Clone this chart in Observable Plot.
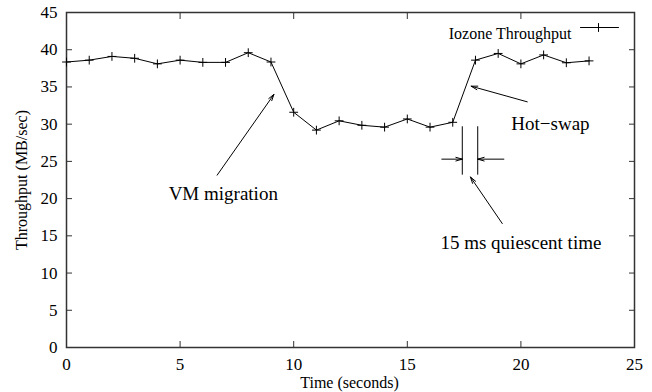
<!DOCTYPE html>
<html>
<head>
<meta charset="utf-8">
<script src="https://cdn.jsdelivr.net/npm/d3@7"></script>
<script src="https://cdn.jsdelivr.net/npm/@observablehq/plot@0.6"></script>
<style>
  html, body { margin: 0; padding: 0; background: #fff; }
  #chart svg { display: block; }
  #chart svg text { font-family: 'Liberation Serif', 'Times New Roman', serif; }
</style>
</head>
<body>
<div id="chart"></div>
<script>
// ---- data ----
const times = [0,1,2,3,4,5,6,7,8,9,10,11,12,13,14,15,16,17,18,19,20,21,22,23];
const throughput = [38.35,38.6,39.1,38.85,38.1,38.6,38.3,38.3,39.6,38.35,31.6,29.2,
                    30.45,29.85,29.6,30.7,29.6,30.25,38.6,39.5,38.1,39.3,38.25,38.5];
const xTicks = [0,5,10,15,20,25];
const yTicks = [0,5,10,15,20,25,30,35,40,45];
const seriesName = "Iozone Throughput";
const xTitle = "Time (seconds)";
const yTitle = "Throughput (MB/sec)";

// annotation labels (data coordinates)
const labels = [
  {text: "VM migration", x: 6.9, y: 20.6},
  {text: "Hot\u2212swap", x: 21.3, y: 30.1},
  {text: "15 ms quiescent time", x: 20.0, y: 14.0}
];
// annotation arrows (data coordinates, tail -> head)
const arrows = [
  {x1: 6.63, y1: 23.15, x2: 9.13, y2: 34.0},
  {x1: 20.28, y1: 33.0, x2: 17.81, y2: 35.1},
  {x1: 19.18, y1: 16.65, x2: 17.78, y2: 22.9},
  {x1: 16.52, y1: 25.3, x2: 17.42, y2: 25.3},
  {x1: 19.25, y1: 25.3, x2: 18.1, y2: 25.3}
];
// quiescent window markers
const bars = [
  {x: 17.42, y1: 23.15, y2: 29.65},
  {x: 18.1, y1: 23.15, y2: 29.65}
];

const data = times.map((t, i) => ({t, v: throughput[i]}));

const font = "'Liberation Serif', 'Times New Roman', serif";
const plusShape = {
  draw(ctx, l) {
    const h = l / 2;
    ctx.moveTo(-h, 0); ctx.lineTo(h, 0);
    ctx.moveTo(0, -h); ctx.lineTo(0, h);
  }
};
const hLine = {
  draw(ctx, l) { ctx.moveTo(0, 0); ctx.lineTo(l, 0); }
};

const chart = Plot.plot({
  width: 652,
  height: 392,
  marginLeft: 66,
  marginRight: 18,
  marginTop: 12,
  marginBottom: 45,
  style: {fontFamily: font, background: "#fff", color: "#000"},
  x: {domain: [0, 25]},
  y: {domain: [0, 45]},
  marks: [
    // tick labels
    Plot.axisX({ticks: xTicks, tickSize: 0, tickPadding: 10, label: null, fontSize: 17, fontFamily: font}),
    Plot.axisY({ticks: yTicks, tickSize: 0, tickPadding: 9, label: null, fontSize: 17, fontFamily: font}),
    // inward ticks on all sides
    Plot.axisX({anchor: "bottom", ticks: xTicks, tickSize: -6, tickFormat: () => "", label: null, stroke: "#333"}),
    Plot.axisX({anchor: "top", ticks: xTicks, tickSize: -6, tickFormat: () => "", label: null, stroke: "#333"}),
    Plot.axisY({anchor: "left", ticks: yTicks, tickSize: -6, tickFormat: () => "", label: null, stroke: "#333"}),
    Plot.axisY({anchor: "right", ticks: yTicks, tickSize: -6, tickFormat: () => "", label: null, stroke: "#333"}),
    Plot.frame({stroke: "#333", strokeWidth: 1.5}),
    // axis titles
    Plot.text([xTitle], {frameAnchor: "bottom", dx: -1, dy: 40, textAnchor: "middle", fontSize: 16, fontFamily: font, fill: "#000"}),
    Plot.text([yTitle], {frameAnchor: "left", dx: -45, dy: 0, rotate: -90, textAnchor: "middle", fontSize: 16, fontFamily: font, fill: "#000"}),
    // series
    Plot.line(data, {x: "t", y: "v", stroke: "#000", strokeWidth: 1}),
    Plot.vector(data, {x: "t", y: "v", length: 8, anchor: "start", shape: plusShape, stroke: "#000", strokeWidth: 1}),
    // annotations
    Plot.ruleX(bars, {x: "x", y1: "y1", y2: "y2", stroke: "#000", strokeWidth: 1}),
    Plot.arrow(arrows, {x1: "x1", y1: "y1", x2: "x2", y2: "y2", stroke: "#000", strokeWidth: 1, headLength: 10, headAngle: 32, bend: 0}),
    Plot.text(labels, {x: "x", y: "y", text: "text", fontSize: 19, fontFamily: font, fill: "#000"}),
    // legend (key)
    Plot.text([seriesName], {frameAnchor: "top-right", dx: -63, dy: 15, textAnchor: "end", fontSize: 16, fontFamily: font, fill: "#000"}),
    Plot.vector([0], {frameAnchor: "top-right", dx: -54, dy: 15, length: 38, anchor: "start", shape: hLine, stroke: "#000", strokeWidth: 1}),
    Plot.vector([0], {frameAnchor: "top-right", dx: -36, dy: 15, length: 8, anchor: "start", shape: plusShape, stroke: "#000", strokeWidth: 1})
  ]
});
document.getElementById("chart").appendChild(chart);
</script>
</body>
</html>
